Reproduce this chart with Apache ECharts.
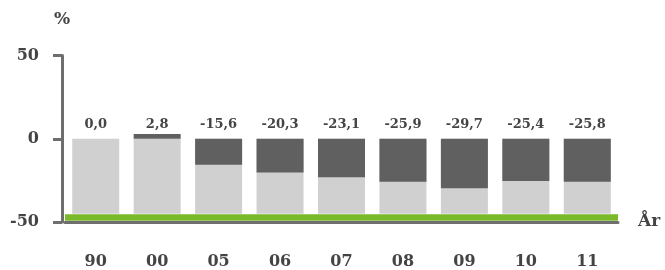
<!DOCTYPE html>
<html>
<head>
<meta charset="utf-8">
<script src="https://cdn.jsdelivr.net/npm/echarts@6/dist/echarts.min.js"></script>
<style>
  html, body { margin: 0; padding: 0; background: #fff; }
  #chart { width: 665px; height: 270px; }
</style>
</head>
<body>
<div id="chart"></div>
<script>
// år og endring i prosent
const years = ["90", "00", "05", "06", "07", "08", "09", "10", "11"];
const change = [0.0, 2.8, -15.6, -20.3, -23.1, -25.9, -29.7, -25.4, -25.8];
const yTicks = [-50, 0, 50];
const floorLevel = -45; // bunn av de lyse søylene
const greenLevel = -47.2;

const font = "'DejaVu Serif', serif";
const textColor = "#444444";
const axisColor = "#6e6e6e";

const chart = echarts.init(document.getElementById("chart"));

chart.setOption({
  animation: false,
  grid: {
    left: 65,
    right: 47,
    top: 55.5,
    bottom: 47,
  },
  xAxis: {
    type: "category",
    data: years,
    name: "År",
    nameGap: 20,
    nameTextStyle: {
      fontFamily: font,
      fontWeight: "bold",
      fontSize: 17,
      color: textColor,
      verticalAlign: "middle",
      padding: [2, 0, 0, 0],
    },
    axisLine: {
      onZero: false,
      lineStyle: { color: axisColor, width: 3 },
    },
    axisTick: {
      alignWithLabel: false,
      length: 9,
      lineStyle: { color: axisColor, width: 3 },
    },
    axisLabel: {
      fontFamily: font,
      fontWeight: "bold",
      fontSize: 16,
      color: textColor,
      margin: 32,
    },
  },
  yAxis: {
    type: "value",
    min: yTicks[0],
    max: yTicks[yTicks.length - 1],
    interval: 50,
    offset: 3,
    name: "%",
    nameGap: 27,
    nameTextStyle: {
      fontFamily: font,
      fontWeight: "bold",
      fontSize: 17,
      color: textColor,
      align: "center",
    },
    splitLine: { show: false },
    axisLine: {
      show: true,
      lineStyle: { color: axisColor, width: 3 },
    },
    axisTick: {
      show: true,
      length: 9,
      lineStyle: { color: axisColor, width: 3 },
    },
    axisLabel: {
      fontFamily: font,
      fontWeight: "bold",
      fontSize: 16,
      color: textColor,
      margin: 23,
      padding: [3, 0, 0, 0],
    },
  },
  series: [
    {
      name: "base",
      type: "bar",
      barWidth: 47,
      data: years.map(() => floorLevel),
      itemStyle: { color: "#d0d0d0" },
      label: {
        show: true,
        position: "top",
        distance: 8,
        fontFamily: font,
        fontWeight: "bold",
        fontSize: 13,
        color: textColor,
        formatter: (p) => change[p.dataIndex].toFixed(1).replace(".", ","),
      },
      markLine: {
        silent: true,
        symbol: "none",
        label: { show: false },
        lineStyle: { color: "#7ab929", width: 6.5, type: "solid" },
        data: [{ yAxis: greenLevel }],
      },
      z: 2,
    },
    {
      name: "endring",
      type: "bar",
      barWidth: 47,
      barGap: "-100%",
      data: change,
      itemStyle: { color: "#606060" },
      z: 3,
    },
  ],
});
</script>
</body>
</html>
